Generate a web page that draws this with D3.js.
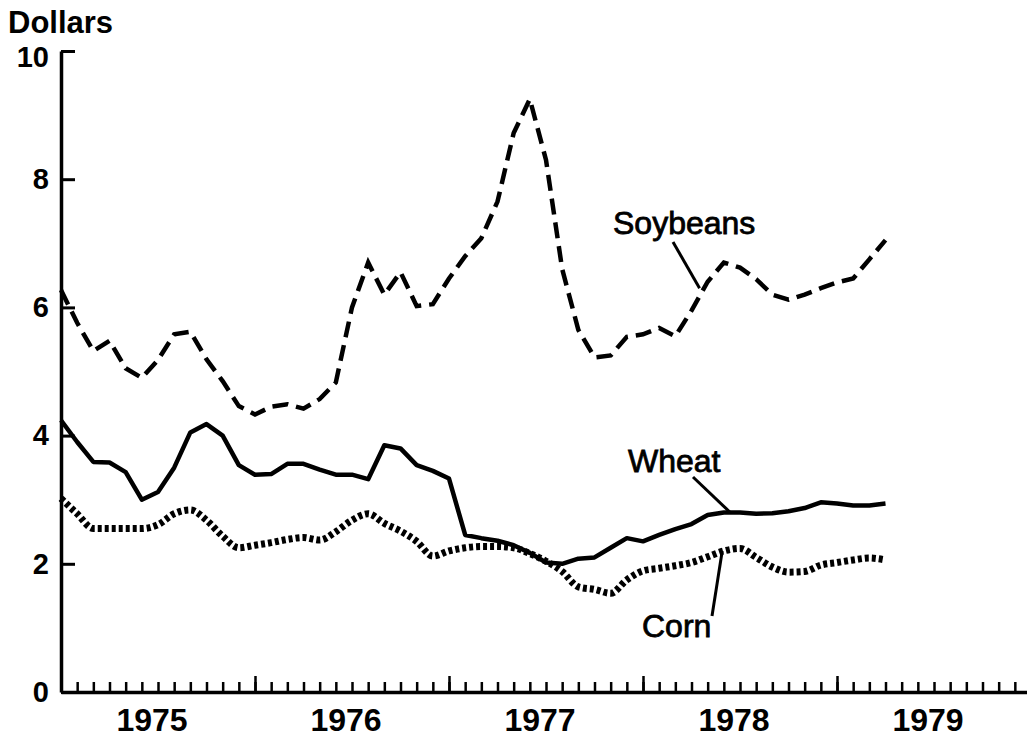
<!DOCTYPE html>
<html>
<head>
<meta charset="utf-8">
<script src="https://cdnjs.cloudflare.com/ajax/libs/d3/7.8.5/d3.min.js"></script>
<style>
  body { margin: 0; background: #fff; }
  text { font-family: "Liberation Sans", Arial, sans-serif; fill: #000; }
</style>
</head>
<body>
<svg id="world"></svg>
<script>
// monthly prices per bushel, starting January 1975
var startYear = 1975;
var soybeans = [6.27, 5.76, 5.32, 5.48, 5.05, 4.90, 5.18, 5.58, 5.62, 5.19, 4.85, 4.46,
                4.33, 4.45, 4.49, 4.42, 4.57, 4.83, 6.00, 6.70, 6.20, 6.55, 6.02, 6.05,
                6.45, 6.80, 7.08, 7.65, 8.72, 9.25, 8.30, 6.60, 5.65, 5.22, 5.25, 5.54,
                5.58, 5.68, 5.55, 5.95, 6.40, 6.70, 6.62, 6.44, 6.20, 6.12, 6.20, 6.30,
                6.39, 6.45, 6.75, 7.05];
var wheat = [4.24, 3.90, 3.59, 3.58, 3.43, 3.00, 3.12, 3.50, 4.05, 4.18, 4.00, 3.54,
             3.39, 3.40, 3.56, 3.56, 3.47, 3.39, 3.39, 3.32, 3.85, 3.80, 3.54, 3.45,
             3.33, 2.45, 2.40, 2.36, 2.29, 2.17, 2.02, 2.00, 2.08, 2.10, 2.25, 2.40,
             2.35, 2.45, 2.54, 2.62, 2.76, 2.80, 2.80, 2.78, 2.79, 2.82, 2.87, 2.96,
             2.94, 2.91, 2.91, 2.94];
var corn = [3.02, 2.78, 2.55, 2.55, 2.55, 2.55, 2.61, 2.78, 2.84, 2.68, 2.43, 2.25,
            2.29, 2.33, 2.38, 2.41, 2.37, 2.50, 2.68, 2.78, 2.63, 2.51, 2.35, 2.12,
            2.20, 2.25, 2.27, 2.27, 2.25, 2.16, 2.04, 1.88, 1.64, 1.60, 1.54, 1.75,
            1.89, 1.93, 1.97, 2.02, 2.11, 2.20, 2.24, 2.10, 1.95, 1.87, 1.88, 1.98,
            2.02, 2.06, 2.09, 2.06];
var yearLabels = ["1975", "1976", "1977", "1978", "1979"];
var yTicks = [0, 2, 4, 6, 8, 10];

var width = 1027, height = 738;
var svg = d3.select("#world").attr("width", width).attr("height", height);
svg.append("rect").attr("width", width).attr("height", height).attr("fill", "#fff");

var x = d3.scaleLinear().domain([1975, 1980]).range([61, 1031]);
var y = d3.scaleLinear().domain([0, 10]).range([692, 51]);

var toDate = function(i) { return startYear + i / 12; };

// y axis
var yAxis = d3.axisLeft(y).tickValues(yTicks).tickSize(-14).tickSizeOuter(0).tickPadding(12);
var gy = svg.append("g").attr("transform", "translate(61,0)").call(yAxis);
gy.select(".domain").attr("stroke-width", 3.5);
gy.selectAll(".tick line").attr("stroke-width", 3);
gy.selectAll("text").attr("font-size", 29).attr("font-weight", "bold")
  .attr("dy", function(d) { return d === 10 ? "0.52em" : "0.32em"; });

// x axis: month ticks + taller year ticks
var months = d3.range(1, 61).map(toDate);
var years = d3.range(1976, 1981);
var xMonths = d3.axisBottom(x).tickValues(months).tickSize(-10).tickSizeOuter(0).tickFormat("");
var gx = svg.append("g").attr("transform", "translate(0,692)").call(xMonths);
gx.select(".domain").attr("stroke-width", 3.5);
gx.selectAll(".tick line").attr("stroke-width", 2.5);
var xYears = d3.axisBottom(x).tickValues(years).tickSize(-16).tickSizeOuter(0).tickFormat("");
var gx2 = svg.append("g").attr("transform", "translate(0,692)").call(xYears);
gx2.select(".domain").remove();
gx2.selectAll(".tick line").attr("stroke-width", 2.5);

svg.selectAll(".yearlab").data(yearLabels).enter().append("text")
    .attr("class", "yearlab")
    .attr("x", function(d) { return x(+d + 0.5) - 6; })
    .attr("y", 731)
    .attr("text-anchor", "middle")
    .attr("font-size", 32)
    .attr("font-weight", "bold")
    .text(function(d) { return d; });

svg.append("text").attr("x", 8).attr("y", 33)
    .attr("font-size", 31).attr("font-weight", "bold").text("Dollars");

// series
var line = d3.line()
    .x(function(d, i) { return x(toDate(i)); })
    .y(function(d) { return y(d); });

svg.append("path").datum(soybeans).attr("d", line)
    .attr("fill", "none").attr("stroke", "#000").attr("stroke-width", 4.5)
    .attr("stroke-dasharray", "16,8");
svg.append("path").datum(wheat).attr("d", line)
    .attr("fill", "none").attr("stroke", "#000").attr("stroke-width", 4.5)
    .attr("stroke-linejoin", "round");
svg.append("path").datum(corn).attr("d", line.curve(d3.curveMonotoneX))
    .attr("fill", "none").attr("stroke", "#000").attr("stroke-width", 7)
    .attr("stroke-dasharray", "4,3");

// labels with leader lines
var labels = [
  {name: "Soybeans", tx: 613, ty: 234, at: 39.5, ly: 6.30, from: [673, 242]},
  {name: "Wheat", tx: 628, ty: 472, at: 41.4, ly: 2.80, from: [693, 477]},
  {name: "Corn", tx: 642, ty: 637, at: 40.9, ly: 2.20, from: [712, 616]}
];
labels.forEach(function(l) {
  svg.append("line")
    .attr("x1", l.from[0]).attr("y1", l.from[1])
    .attr("x2", x(toDate(l.at))).attr("y2", y(l.ly))
    .attr("stroke", "#000").attr("stroke-width", 3);
  svg.append("text").attr("x", l.tx).attr("y", l.ty)
    .attr("font-size", 32).attr("stroke", "#000").attr("stroke-width", 0.8)
    .text(l.name);
});
</script>
</body>
</html>
